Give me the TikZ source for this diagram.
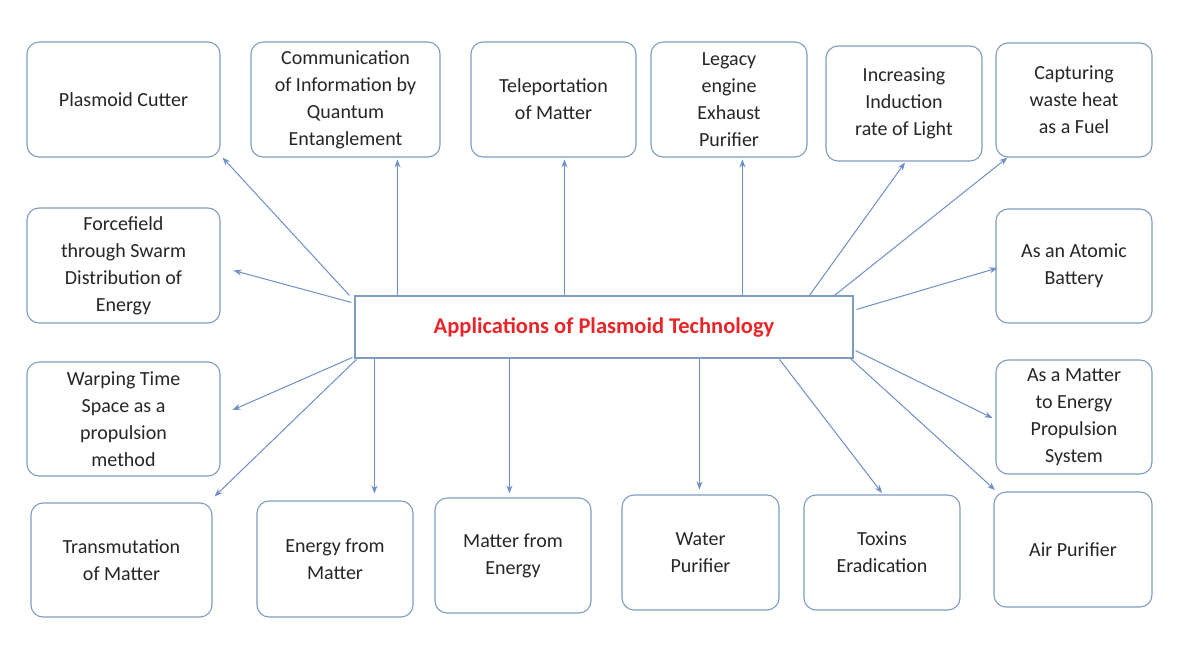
\documentclass[tikz,border=0pt]{standalone}
\usepackage{fontspec}
\setmainfont{Carlito}
\usetikzlibrary{calc,arrows.meta}
\definecolor{bord}{HTML}{7F9CC0}
\definecolor{arrc}{HTML}{6F8FC8}
\definecolor{titr}{HTML}{E8262A}
\begin{document}
\begin{tikzpicture}[x=1pt,y=-1pt,
  box/.style={draw=bord,line width=1.1pt,rounded corners=12pt,fill=white,align=center,
    font=\fontsize{20}{27}\selectfont,inner sep=2pt,text=black!85},
  arr/.style={draw=arrc,line width=1pt,-{Stealth[length=8pt,width=6pt]}}]
\useasboundingbox (0,0) rectangle (1200,658);
\fill[white] (0,0) rectangle (1200,658);
\newcommand\bx[6]{\node[box,minimum width=#3-#1,minimum height=#4-#2] (#5) at ({(#1+#3)/2},{(#2+#4)/2}) {#6};}
\bx{27}{42}{220}{157}{pc}{Plasmoid Cutter}
\bx{251}{42}{440}{157}{co}{Communication\\of Information by\\Quantum\\Entanglement}
\bx{471}{42}{636}{157}{te}{Teleportation\\of Matter}
\bx{651}{42}{807}{157}{le}{Legacy\\engine\\Exhaust\\Purifier}
\bx{826}{46}{982}{161}{in}{Increasing\\Induction\\rate of Light}
\bx{996}{43}{1152}{157}{ca}{Capturing\\waste heat\\as a Fuel}
\bx{27}{208}{220}{323}{ff}{Forcefield\\through Swarm\\Distribution of\\Energy}
\bx{27}{362}{220}{476}{wa}{Warping Time\\Space as a\\propulsion\\method}
\bx{31}{503}{212}{617}{tr}{Transmutation\\of Matter}
\bx{257}{501}{413}{617}{em}{Energy from\\Matter}
\bx{435}{498}{591}{613}{me}{Matter from\\Energy}
\bx{622}{495}{779}{610}{wp}{Water\\Purifier}
\bx{804}{495}{960}{610}{to}{Toxins\\Eradication}
\bx{994}{492}{1152}{607}{ai}{Air Purifier}
\bx{996}{209}{1152}{323}{at}{As an Atomic\\Battery}
\bx{996}{360}{1152}{474}{mt}{As a Matter\\to Energy\\Propulsion\\System}
\node[draw=bord,line width=1.1pt,fill=white,minimum width=498,minimum height=62,
  font=\fontsize{22.5}{25}\selectfont\bfseries,text=titr] (c) at (604,327) {Applications of Plasmoid Technology};
\draw[arr] ($(c.north west)+(-5,0)$) -- ($(pc.south east)+(2,0)$);
\draw[arr] ($(c.north west)+(43,0)$) -- ($(c.north west)+(43,-136)$);
\draw[arr] ($(c.north west)+(210,0)$) -- ($(c.north west)+(210,-136)$);
\draw[arr] ($(c.north west)+(388,0)$) -- ($(c.north west)+(388,-136)$);
\draw[arr] ($(c.north west)+(455,0)$) -- ($(in.south)+(1,1)$);
\draw[arr] ($(c.north west)+(480,0)$) -- ($(ca.south west)+(12,0)$);
\draw[arr] ($(c.north west)+(-3,7)$) -- ($(ff.east)+(13,5)$);
\draw[arr] ($(c.north west)+(-2,62)$) -- ($(wa.east)+(12,-9)$);
\draw[arr] ($(c.north west)+(2,64)$) -- ($(tr.north east)+(2,-6)$);
\draw[arr] ($(c.north west)+(20,64)$) -- ($(c.north west)+(20,198)$);
\draw[arr] ($(c.north west)+(155,64)$) -- ($(c.north west)+(155,198)$);
\draw[arr] ($(c.north west)+(345,64)$) -- ($(c.north west)+(345,194)$);
\draw[arr] ($(c.north west)+(425,64)$) -- (882,493);
\draw[arr] ($(c.south east)+(-3,0)$) -- (995,490);
\draw[arr] ($(c.north east)+(3,14)$) -- ($(at.west)+(2,2)$);
\draw[arr] ($(c.south east)+(2,-8)$) -- ($(mt.west)+(-3,1)$);
\end{tikzpicture}
\end{document}
